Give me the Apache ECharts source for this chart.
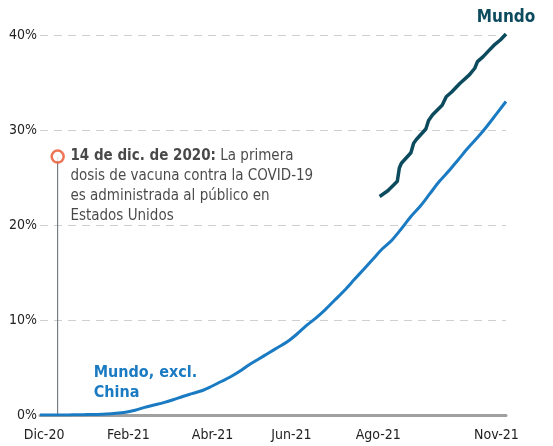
<!DOCTYPE html>
<html>
<head>
<meta charset="utf-8">
<script src="https://cdn.jsdelivr.net/npm/echarts@6/dist/echarts.min.js"></script>
<style>
  html, body { margin: 0; padding: 0; background: #fff; }
  #chart { width: 553px; height: 446px; }
</style>
</head>
<body>
<div id="chart"></div>
<script>
// días desde el 1 de dic. de 2020
const FONT = "'Liberation Sans Narrow', 'DejaVu Sans Condensed', 'Roboto', sans-serif";

const exclDays = [0, 7, 14, 21, 28, 35, 42, 49, 56, 63, 70, 77, 84, 91, 98, 105, 112, 119, 126, 133,
  140, 147, 154, 161, 168, 175, 182, 189, 196, 203, 210, 217, 224, 231, 238, 245, 252, 259, 266, 273,
  280, 287, 294, 301, 308, 315, 322, 329, 336, 343];
const exclValues = [0, 0, 0, 0.01, 0.02, 0.04, 0.06, 0.1, 0.18, 0.3, 0.5, 0.8, 1.05, 1.3, 1.6, 1.95, 2.25, 2.55, 3.0, 3.5,
  4.0, 4.6, 5.3, 5.9, 6.5, 7.1, 7.7, 8.5, 9.4, 10.2, 11.1, 12.1, 13.1, 14.2, 15.3, 16.4, 17.5, 18.4, 19.6, 20.9,
  22.0, 23.3, 24.6, 25.7, 26.9, 28.1, 29.2, 30.4, 31.7, 33.0];

const mundoDays = [250, 256, 263, 264.5, 266, 273, 275, 277, 284, 286, 289, 296, 299, 303, 309, 316, 320, 322, 326, 330, 334, 339, 343];
const mundoValues = [23.0, 23.6, 24.6, 26.0, 26.5, 27.6, 28.6, 29.0, 30.1, 31.0, 31.6, 32.6, 33.5, 34.0, 34.9, 35.8, 36.5, 37.2, 37.7, 38.3, 38.9, 39.5, 40.1];

const tickDays = [3, 65, 127, 185, 249, 336];
const tickLabels = ["Dic-20", "Feb-21", "Abr-21", "Jun-21", "Ago-21", "Nov-21"];

const eventDay = 13;
const eventValue = 27.2;
const eventTitle = "14 de dic. de 2020:";
const eventText = ["La primera", "dosis de vacuna contra la COVID-19", "es administrada al público en", "Estados Unidos"];

const pairs = (xs, ys) => xs.map((x, i) => [x, ys[i]]);
const mundo = pairs(mundoDays, mundoValues);

const chart = echarts.init(document.getElementById("chart"));
chart.setOption({
  backgroundColor: "#fff",
  animation: false,
  grid: { left: 40, right: 47, top: 35, bottom: 31 },
  xAxis: {
    type: "value", min: 0, max: 343,
    axisLine: { show: true, lineStyle: { color: "#a0a0a0", width: 3 } },
    axisTick: { show: false },
    splitLine: { show: false },
    axisLabel: {
      customValues: tickDays,
      formatter: (v) => tickLabels[tickDays.indexOf(v)] || "",
      fontFamily: FONT, fontSize: 14, color: "#222", margin: 13
    }
  },
  yAxis: {
    type: "value", min: 0, max: 40, interval: 10,
    axisLine: { show: false },
    axisTick: { show: false },
    splitLine: { lineStyle: { color: "#cfcfcf", type: [8, 6], width: 1 } },
    axisLabel: { formatter: "{value}%", fontFamily: FONT, fontSize: 14, color: "#222", margin: 3 }
  },
  series: [
    {
      type: "line", data: [[eventDay, 0], [eventDay, eventValue]], symbol: "none", silent: true,
      lineStyle: { color: "#5a6670", width: 1 }, z: 1
    },
    {
      type: "line", data: pairs(exclDays, exclValues), symbol: "none", smooth: 0.3,
      lineStyle: { color: "#1a7bc3", width: 3 }, z: 3,
      markPoint: {
        symbol: "circle", symbolSize: 0,
        data: [{ coord: [39.5, 3.4] }],
        label: {
          show: true, position: "right", distance: 0, align: "left",
          formatter: "Mundo, excl.\nChina",
          fontFamily: FONT, fontSize: 16, fontWeight: "bold", color: "#1a7bc3", lineHeight: 20
        }
      }
    },
    {
      type: "line", data: mundo, symbol: "none", clip: false,
      lineStyle: { color: "#0c4a5e", width: 3.5 }, z: 4,
      markPoint: {
        symbol: "circle", symbolSize: 0,
        // el último punto pasa un poco del 40 %; se ancla dentro del eje
        data: [{ coord: [mundoDays[mundoDays.length - 1], 40] }],
        label: {
          show: true, position: "top", distance: 9, formatter: "Mundo",
          fontFamily: FONT, fontSize: 17, fontWeight: "bold", color: "#0c4a5e"
        }
      }
    },
    {
      type: "scatter", data: [[eventDay, eventValue]], symbol: "circle", symbolSize: 12, z: 5,
      itemStyle: { color: "#fff", borderColor: "#e8532a", borderWidth: 2.5 },
      label: {
        show: true, position: [20, -3], align: "left", verticalAlign: "top",
        formatter: "{b|" + eventTitle + "} " + eventText[0] + "\n" + eventText.slice(1).join("\n"),
        fontFamily: FONT, fontSize: 15, color: "#1a1a1a", lineHeight: 20,
        rich: { b: { fontFamily: FONT, fontSize: 15, fontWeight: "bold", color: "#1a1a1a", lineHeight: 20 } }
      }
    }
  ]
});
</script>
</body>
</html>
